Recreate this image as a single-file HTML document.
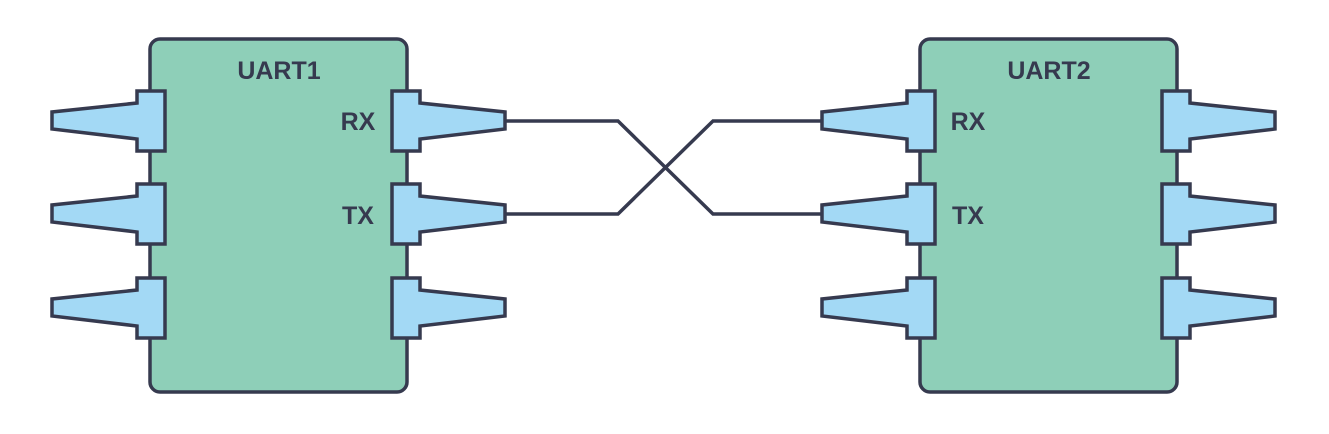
<!DOCTYPE html>
<html><head><meta charset="utf-8"><style>
html,body{margin:0;padding:0;background:#fff;}
svg{display:block;}
text{font-family:"Liberation Sans",sans-serif;font-weight:bold;font-size:25px;fill:#363a4f;}
</style></head><body>
<svg width="1329" height="434" viewBox="0 0 1329 434">
<g stroke="#363a4f" stroke-width="3.5" stroke-linejoin="miter" fill="none">
  <polyline points="505,121 618,121 713,214 821,214"/>
  <polyline points="505,214 618,214 713,121 821,121"/>
  <rect x="150" y="39" width="257" height="353" rx="10" fill="#8ecfb8"/>
  <rect x="920" y="39" width="257" height="353" rx="10" fill="#8ecfb8"/>
</g>
<g id="pins" stroke="#363a4f" stroke-width="3.5" fill="#a3d9f5" stroke-linejoin="miter"></g>
<text x="279" y="79" text-anchor="middle">UART1</text>
<text x="1049" y="79" text-anchor="middle">UART2</text>
<text x="358" y="130" text-anchor="middle">RX</text>
<text x="358" y="224" text-anchor="middle">TX</text>
<text x="968" y="130" text-anchor="middle">RX</text>
<text x="968" y="224" text-anchor="middle">TX</text>
</svg>
<script>
const pinRows=[121,214,308];
const pinSides=[{x:151,dir:-1,n:'uart1-left'},{x:406,dir:1,n:'uart1-right'},{x:921,dir:-1,n:'uart2-left'},{x:1176,dir:1,n:'uart2-right'}];
const g=document.getElementById('pins');
pinSides.forEach(s=>{pinRows.forEach((cy,i)=>{
  const d=s.dir, x0=s.x-14*d, x1=s.x+14*d, tip=s.x+99*d;
  const pts=[[x0,cy-30],[x1,cy-30],[x1,cy-18],[tip,cy-9],[tip,cy+8],[x1,cy+18],[x1,cy+30],[x0,cy+30]];
  const p=document.createElementNS('http://www.w3.org/2000/svg','polygon');
  p.setAttribute('points',pts.map(a=>a.join(',')).join(' '));
  
  
  g.appendChild(p);
});});
</script>
</body></html>
